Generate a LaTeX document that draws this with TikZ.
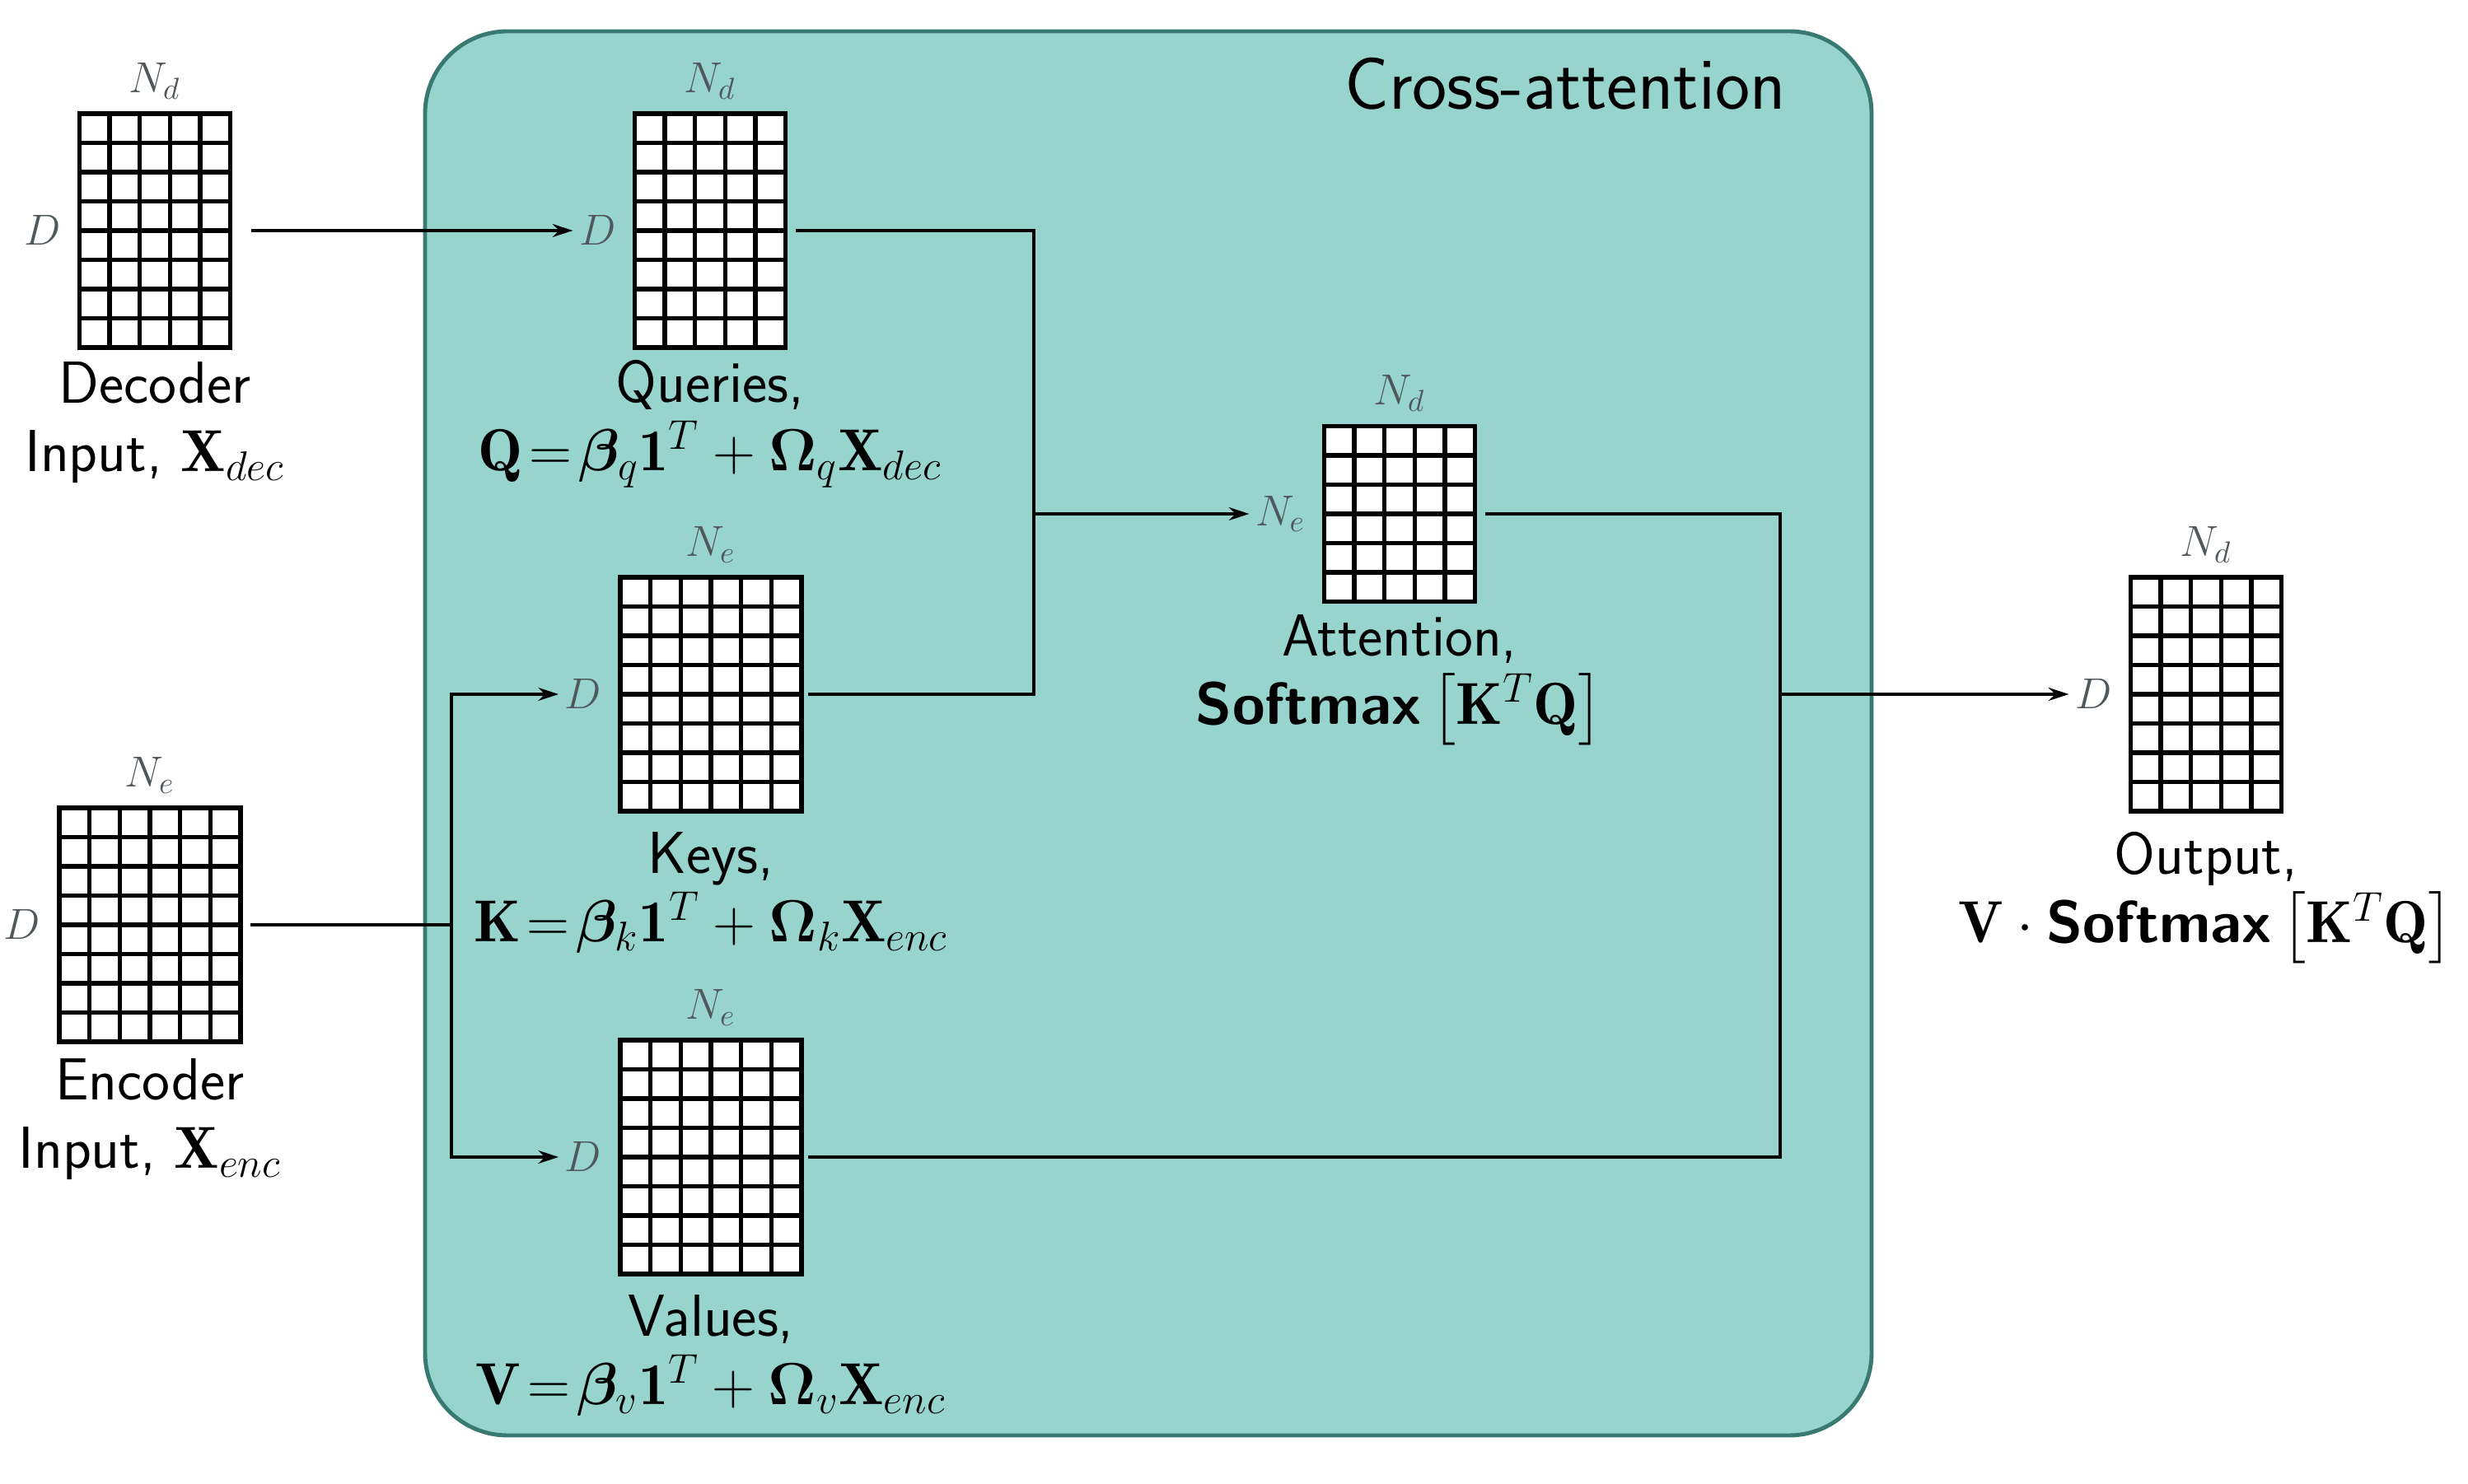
\RequirePackage{fix-cm}
\documentclass[tikz,border=0pt]{standalone}
\usepackage{amsmath}
\usepackage{bm}
\usepackage{fontspec}
\usepackage{tikz}
\usetikzlibrary{positioning,arrows.meta}

\definecolor{boxfill}{RGB}{152,212,206}
\definecolor{boxline}{RGB}{56,122,113}
\definecolor{dimgrey}{RGB}{80,88,92}

\begin{document}
\begin{tikzpicture}[
    mat/.style 2 args={draw, fill=white, line width=1.5pt, inner sep=0pt, outer sep=0pt,
        minimum width={#1*\cw*1cm}, minimum height={#2*\ch*1cm}},
    dim/.style={text=dimgrey, font=\fontsize{15}{15}\selectfont, inner sep=2pt},
    lab/.style={font=\fontsize{20.5}{23.6}\selectfont\sffamily, align=center, inner sep=0pt},
    wire/.style={line width=1.4pt},
    gap/.style={shorten <=0.12cm},
    tip/.style={-{Stealth[length=7pt,width=4.5pt]}}
]
    % Размер клетки
    \def\cw{0.367}
    \def\ch{0.355}

    \useasboundingbox (0,0) rectangle (29.96,18.02);

    % Блок cross-attention
    \draw[fill=boxfill, draw=boxline, line width=1.4pt, rounded corners=1cm]
        (5.16,0.59) rectangle (22.72,17.64);
    \node[font=\fontsize{25.5}{26}\selectfont\sffamily] (title) at (19.0,17.0) {Cross-attention};

    % Матрицы
    \foreach \m/\c/\r/\x/\y in {dec/5/8/1.88/15.22, enc/6/8/1.82/6.79,
        Q/5/8/8.62/15.22, K/6/8/8.63/9.59, V/6/8/8.63/3.97,
        att/5/6/16.99/11.78, out/5/8/26.78/9.59}
    {
        \node[mat={\c}{\r}] (\m) at (\x,\y) {};
        \draw[line width=1.5pt, shift={(\m.south west)}]
            (0,0) grid[xstep=\cw, ystep=\ch] ({\c*\cw},{\r*\ch});
    }

    % Размерности
    \foreach \m/\ncol/\nrow in {dec/N_d/D, enc/N_e/D, Q/N_d/D, K/N_e/D,
        V/N_e/D, att/N_d/N_e, out/N_d/D}
    {
        \node[dim, above=0.1cm of \m] (\m-top) {$\ncol$};
        \node[dim, left=0.15cm of \m] (\m-side) {$\nrow$};
    }

    % Подписи
    \node[lab, below=0.17cm of dec] (dec-lab) {Decoder\\Input, $\mathbf{X}_{dec}$};
    \node[lab, below=0.2cm of enc] (enc-lab) {Encoder\\Input, $\mathbf{X}_{enc}$};
    \node[lab, below=0.15cm of Q] (Q-lab)
        {Queries,\\$\mathbf{Q}\!=\!\bm{\beta}_q\mathbf{1}^T+\bm{\Omega}_q\mathbf{X}_{dec}$};
    \node[lab, below=0.25cm of K] (K-lab)
        {Keys,\\$\mathbf{K}\!=\!\bm{\beta}_k\mathbf{1}^T+\bm{\Omega}_k\mathbf{X}_{enc}$};
    \node[lab, below=0.25cm of V] (V-lab)
        {Values,\\$\mathbf{V}\!=\!\bm{\beta}_v\mathbf{1}^T+\bm{\Omega}_v\mathbf{X}_{enc}$};
    \node[lab, below=0.15cm of att] (att-lab)
        {Attention,\\$\text{\bfseries Softmax}\left[\mathbf{K}^T\mathbf{Q}\right]$};
    \node[lab, below=0.25cm of out] (out-lab)
        {Output,\\$\mathbf{V}\cdot\text{\bfseries Softmax}\left[\mathbf{K}^T\mathbf{Q}\right]$};

    % Точки ветвления
    \coordinate (qk) at (12.55,11.78);
    \coordinate (kv) at (5.48,6.79);
    \coordinate (vo) at (21.61,9.59);

    % Соединения
    \draw[wire, shorten <=0.25cm, tip] (dec.east) -- (Q-side.west);
    \draw[wire, gap] (enc.east) -- (kv);
    \draw[wire, tip] (kv) |- (K-side.west);
    \draw[wire, tip] (kv) |- (V-side.west);
    \draw[wire, gap, shorten >=0.08cm] (Q.east) -| (qk) |- (K.east);
    \draw[wire, tip] (qk) -- (att-side.west);
    \draw[wire, gap, shorten >=0.08cm] (att.east) -| (vo) |- (V.east);
    \draw[line width=1.1pt, tip] (vo) -- (out-side.west);
\end{tikzpicture}
\end{document}
